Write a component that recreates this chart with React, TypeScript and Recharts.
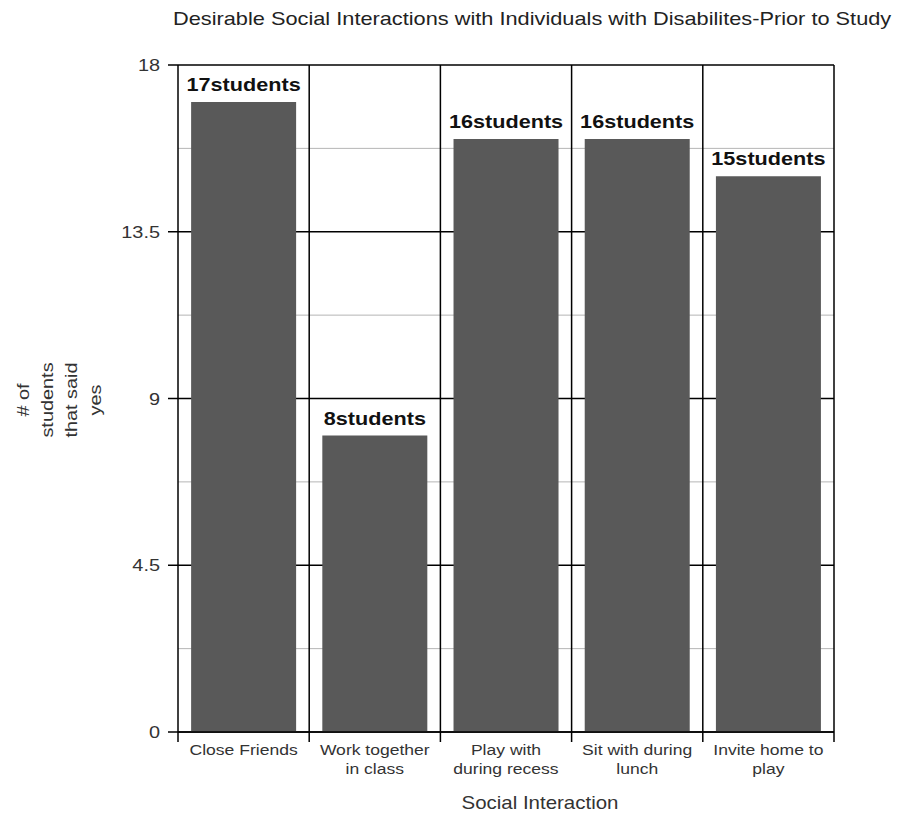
import React from "react";
import {
  Bar,
  BarChart,
  CartesianGrid,
  LabelList,
  XAxis,
  YAxis,
} from "recharts";

const categories = [
  "Close Friends",
  "Work together in class",
  "Play with during recess",
  "Sit with during lunch",
  "Invite home to play",
];
const categoryLines = [
  ["Close Friends"],
  ["Work together", "in class"],
  ["Play with", "during recess"],
  ["Sit with during", "lunch"],
  ["Invite home to", "play"],
];
const students = [17, 8, 16, 16, 15];
const majorTicks = [0, 4.5, 9, 13.5, 18];
const minorTicks = [2.25, 6.75, 11.25, 15.75];
const yLabelLines = ["# of", "students", "that said", "yes"];

const W = 880;
const H = 809;
const MARGIN = { top: 57, right: 54, left: 110, bottom: 35 };
const Y_AXIS_W = 60;
const PLOT_LEFT = MARGIN.left + Y_AXIS_W;
const PLOT_W = W - PLOT_LEFT - MARGIN.right;
const BAND = PLOT_W / categories.length;

const FONT = "'Liberation Sans', Arial, sans-serif";
const STRETCH = 1.17;

// text drawn a little wider than the font, as in the source image
function WideText(props: any) {
  const { x, y, anchor = "middle", size, weight, fill = "#333", rotate = 0, lines, dy = 0 } = props;
  return (
    <text
      transform={`translate(${x},${y}) rotate(${rotate}) scale(${STRETCH},1)`}
      textAnchor={anchor}
      fontFamily={FONT}
      fontSize={size}
      fontWeight={weight}
      fill={fill}
    >
      {lines.map((l: string, i: number) => (
        <tspan key={i} x={0} y={i * dy}>
          {l}
        </tspan>
      ))}
    </text>
  );
}

const chartData = categories.map((name, i) => ({
  name,
  value: students[i],
}));

function XTick(props: any) {
  const { x, y, payload, index } = props;
  const lines = categoryLines[index] ?? [String(payload.value)];
  const half = BAND / 2;
  return (
    <g>
      <line x1={x - half} y1={y} x2={x - half} y2={y + 10} stroke="#000" strokeWidth={1.5} />
      {index === categories.length - 1 && (
        <line x1={x + half} y1={y} x2={x + half} y2={y + 10} stroke="#000" strokeWidth={1.5} />
      )}
      <WideText x={x} y={y + 23} size={15} lines={lines} dy={19} />
    </g>
  );
}

function YTick(props: any) {
  const { x, y, payload } = props;
  return <WideText x={x} y={y + 6} anchor="end" size={17} lines={[String(payload.value)]} />;
}

function ValueLabel(props: any) {
  const { x, y, width, value } = props;
  return (
    <WideText
      x={x + width / 2}
      y={y - 11}
      size={18.5}
      weight="bold"
      fill="#111"
      lines={[`${value}students`]}
    />
  );
}

function YLabel() {
  return <WideText x={21} y={392} rotate={-90} size={17} lines={yLabelLines} dy={24} />;
}

function XLabel() {
  return <WideText x={532} y={801} size={17.5} lines={["Social Interaction"]} />;
}

export default function App() {
  return (
    <div style={{ position: "relative", width: W, height: H, background: "#fff" }}>
      <div
        style={{
          position: "absolute",
          left: 165,
          top: 0,
          fontFamily: FONT,
          fontSize: 19,
          color: "#222",
          whiteSpace: "nowrap",
          transform: "scaleX(1.145)",
          transformOrigin: "left center",
        }}
      >
        Desirable Social Interactions with Individuals with Disabilites-Prior to Study
      </div>
      <BarChart width={W} height={H} data={chartData} margin={MARGIN} barCategoryGap="10%">
        <CartesianGrid
          vertical={false}
          horizontalValues={minorTicks}
          stroke="#b5b5b5"
          strokeWidth={1}
        />
        <CartesianGrid
          horizontal
          horizontalValues={majorTicks}
          stroke="#000"
          strokeWidth={1.5}
          verticalCoordinatesGenerator={({ offset }: any) =>
            categories.map((_, i) => offset.left + ((i + 1) * offset.width) / categories.length)
          }
        />
        <XAxis
          dataKey="name"
          interval={0}
          tickSize={0}
          tickMargin={0}
          tickLine={false}
          height={50}
          axisLine={{ stroke: "#000", strokeWidth: 1.5 }}
          tick={<XTick />}
          label={<XLabel />}
        />
        <YAxis
          width={Y_AXIS_W}
          domain={[0, 18]}
          ticks={majorTicks}
          tickSize={10}
          tickMargin={8}
          tickLine={{ stroke: "#000", strokeWidth: 1.5 }}
          axisLine={{ stroke: "#000", strokeWidth: 1.5 }}
          tick={<YTick />}
          label={<YLabel />}
        />
        <Bar dataKey="value" fill="#595959" isAnimationActive={false}>
          <LabelList dataKey="value" content={<ValueLabel />} />
        </Bar>
      </BarChart>
    </div>
  );
}
